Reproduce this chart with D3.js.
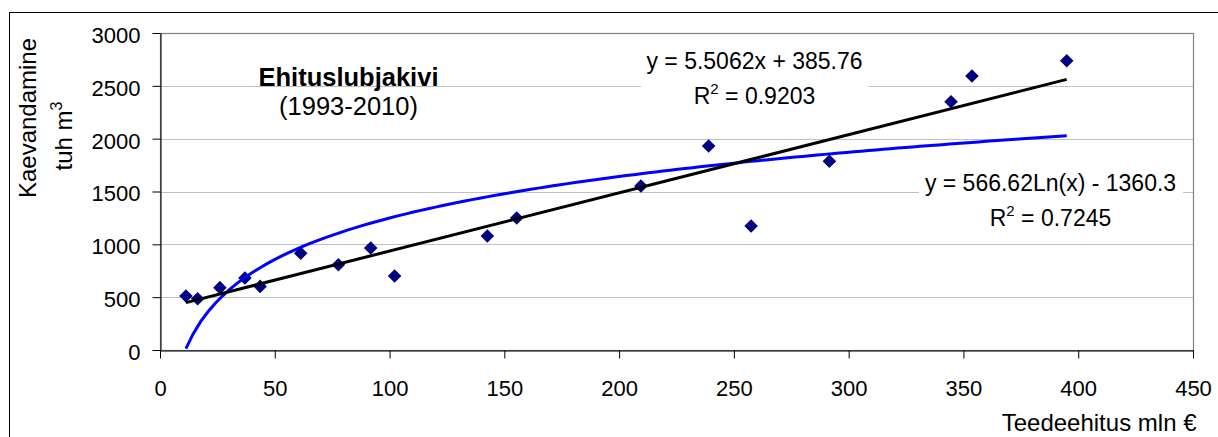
<!DOCTYPE html>
<html>
<head>
<meta charset="utf-8">
<script src="https://cdn.jsdelivr.net/npm/d3@7/dist/d3.min.js"></script>
<style>
  html, body { margin: 0; padding: 0; background: #fff; }
  svg { display: block; font-family: "Liberation Sans", Arial, sans-serif; }
</style>
</head>
<body>
<svg id="chart" width="1218" height="437"></svg>
<script>
// Road construction spending (mln €) vs. building limestone extraction (thousand m3), 1993-2010
const roadSpend = [11.3, 16.4, 26.1, 37.0, 43.6, 61.3, 77.7, 91.8, 102.2, 142.6, 155.4, 209.5, 239.0, 257.5, 291.6, 344.6, 353.7, 395.0];
const extraction = [511, 485, 590, 681, 602, 915, 807, 965, 700, 1079, 1250, 1552, 1930, 1173, 1786, 2350, 2593, 2738];

const xTicks = [0, 50, 100, 150, 200, 250, 300, 350, 400, 450];
const yTicks = [0, 500, 1000, 1500, 2000, 2500, 3000];

// Trendline coefficients: linear y = a*x + b, logarithmic y = a*ln(x) + b
const linearFit = [5.5062, 385.76];
const linearR2 = ["0.9203"];
const logFit = [566.62, -1360.3];
const logR2 = ["0.7245"];

const svg = d3.select("#chart");
const W = 1218, H = 437;
const plot = { left: 160, top: 33, right: 1193, bottom: 350 };

const x = d3.scaleLinear().domain([0, 450]).range([plot.left, plot.right]);
const y = d3.scaleLinear().domain([0, 3000]).range([plot.bottom, plot.top]);

// outer frame
svg.append("rect")
  .attr("x", 9.5).attr("y", 12.5)
  .attr("width", W + 10).attr("height", H + 10)
  .attr("fill", "#fff").attr("stroke", "#000").attr("stroke-width", 1);

// gridlines
svg.append("g").selectAll("line")
  .data(yTicks.filter(v => v > 0))
  .join("line")
  .attr("x1", plot.left).attr("x2", plot.right)
  .attr("y1", d => Math.round(y(d)) + 0.5).attr("y2", d => Math.round(y(d)) + 0.5)
  .attr("stroke", "#c0c0c0").attr("stroke-width", 1);

// plot area border
svg.append("rect")
  .attr("x", plot.left + 0.5).attr("y", plot.top + 0.5)
  .attr("width", plot.right - plot.left).attr("height", plot.bottom - plot.top)
  .attr("fill", "none").attr("stroke", "#808080").attr("stroke-width", 1.2);

// axes
const yAxis = d3.axisLeft(y).tickValues(yTicks).tickSize(8).tickSizeOuter(0).tickPadding(12).tickFormat(d3.format("d"));
const gy = svg.append("g").attr("transform", `translate(${plot.left + 0.5},0)`).call(yAxis);
gy.selectAll("text").attr("dy", "0.43em");

const xAxis = d3.axisBottom(x).tickValues(xTicks).tickSize(8).tickSizeOuter(0).tickPadding(22).tickFormat(d3.format("d"));
const gx = svg.append("g").attr("transform", `translate(0,${plot.bottom + 0.5})`).call(xAxis);

[gx, gy].forEach(g => {
  g.selectAll("text").attr("font-size", 22).attr("fill", "#000")
    .attr("font-family", "'Liberation Sans', Arial, sans-serif");
  g.selectAll("line").attr("stroke", "#000");
  g.select(".domain").attr("stroke", "#000");
});

// data points (diamonds)
const diamond = d3.symbol().type(d3.symbolSquare).size(92);
svg.append("g").selectAll("path")
  .data(roadSpend.map((v, i) => [v, extraction[i]]))
  .join("path")
  .attr("d", diamond)
  .attr("transform", d => `translate(${x(d[0])},${y(d[1])}) rotate(45)`)
  .attr("fill", "#000080");

// trendlines
const xMin = d3.min(roadSpend), xMax = d3.max(roadSpend);
const line = d3.line().x(d => x(d[0])).y(d => y(d[1]));

const logPts = d3.range(0, 121).map(i => {
  const xv = xMin + (xMax - xMin) * i / 120;
  return [xv, logFit[0] * Math.log(xv) + logFit[1]];
});
svg.append("path").datum(logPts)
  .attr("d", line).attr("fill", "none")
  .attr("stroke", "#0000ff").attr("stroke-width", 3);

const linPts = [xMin, xMax].map(xv => [xv, linearFit[0] * xv + linearFit[1]]);
svg.append("path").datum(linPts)
  .attr("d", line).attr("fill", "none")
  .attr("stroke", "#000").attr("stroke-width", 3);

// title
svg.append("text").attr("x", 348.5).attr("y", 86).attr("text-anchor", "middle")
  .attr("font-size", 25.5).attr("font-weight", "bold").text("Ehituslubjakivi");
svg.append("text").attr("x", 348.5).attr("y", 115).attr("text-anchor", "middle")
  .attr("font-size", 25.5).text("(1993-2010)");

// trendline equation labels
function eqLabel(box, cx, y1, line1, r2) {
  svg.append("rect").attr("x", box[0]).attr("y", box[1])
    .attr("width", box[2]).attr("height", box[3]).attr("fill", "#fff");
  svg.append("text").attr("x", cx).attr("y", y1).attr("text-anchor", "middle")
    .attr("font-size", 23).text(line1);
  const t = svg.append("text").attr("x", cx).attr("y", y1 + 35).attr("text-anchor", "middle")
    .attr("font-size", 23);
  t.append("tspan").text("R");
  t.append("tspan").attr("font-size", 15).attr("dy", -10).text("2");
  t.append("tspan").attr("dy", 10).text(" = " + r2);
}
eqLabel([641, 45, 228, 68], 754.5, 68.5,
  `y = ${linearFit[0]}x + ${linearFit[1]}`, linearR2[0]);
eqLabel([919, 168, 264, 66], 1050.5, 190.5,
  `y = ${logFit[0]}Ln(x) - ${Math.abs(logFit[1])}`, logR2[0]);

// axis titles
svg.append("text").attr("transform", "translate(36,118) rotate(-90)")
  .attr("text-anchor", "middle").attr("font-size", 24).text("Kaevandamine");
const yt2 = svg.append("text").attr("transform", "translate(71.5,136) rotate(-90)")
  .attr("text-anchor", "middle").attr("font-size", 24);
yt2.append("tspan").text("tuh m");
yt2.append("tspan").attr("font-size", 16).attr("dy", -10).text("3");

svg.append("text").attr("x", 1196.5).attr("y", 430.5).attr("text-anchor", "end")
  .attr("font-size", 24).text("Teedeehitus mln €");
</script>
</body>
</html>
